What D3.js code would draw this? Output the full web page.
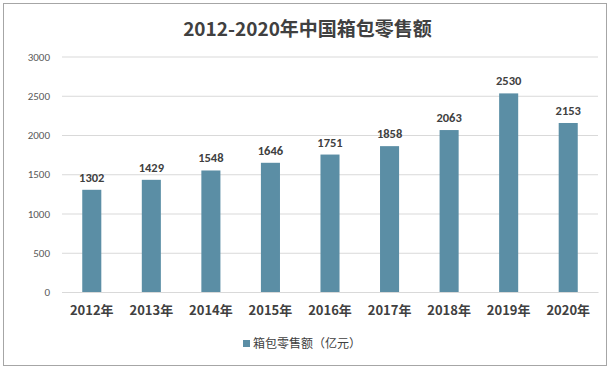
<!DOCTYPE html>
<html>
<head>
<meta charset="utf-8">
<script src="https://d3js.org/d3.v7.min.js"></script>
<style>
  body { margin: 0; background: #fff; }
  svg { font-family: Calibri, "Liberation Sans", "Noto Sans CJK SC", sans-serif; }
</style>
</head>
<body>
<svg id="chart" width="611" height="370"></svg>
<script>
// data
let years = ["2012年","2013年","2014年","2015年","2016年","2017年","2018年","2019年","2020年"];
let sales = [1302,1429,1548,1646,1751,1858,2063,2530,2153];
let yTicks = [0,500,1000,1500,2000,2500,3000];
let title = "2012-2020年中国箱包零售额";
let seriesName = "箱包零售额（亿元）";

let svg = d3.select("#chart");
let margin = {left: 62, right: 13, top: 56.5, bottom: 78};
let W = 611, H = 370;

// outer frame
svg.append("rect")
  .attr("x", 3.5).attr("y", 3.5).attr("width", 603).attr("height", 362)
  .attr("fill", "#fff").attr("stroke", "#a6a6a6").attr("stroke-width", 1);

let x = d3.scaleBand().domain(years).range([margin.left, W - margin.right]).paddingInner(0.68).paddingOuter(0.34);
let y = d3.scaleLinear().domain([0, 3000]).range([H - margin.bottom, margin.top]);

// gridlines + y labels
let yAxis = svg.append("g")
  .attr("transform", "translate(" + margin.left + ",0)")
  .call(d3.axisLeft(y).tickValues(yTicks).tickFormat(d3.format("d"))
    .tickSize(-(W - margin.left - margin.right)).tickPadding(12));
yAxis.select(".domain").remove();
yAxis.selectAll(".tick line").attr("stroke", "#d9d9d9");
yAxis.selectAll(".tick text").attr("fill", "#595959").style("font-size", "11px")
  .style("font-family", "Calibri, 'Liberation Sans', sans-serif");

// bars
svg.selectAll("rect.bar").data(sales).enter().append("rect")
  .attr("class", "bar")
  .attr("x", (d, i) => x(years[i]))
  .attr("width", x.bandwidth())
  .attr("y", d => y(d))
  .attr("height", d => y(0) - y(d))
  .attr("fill", "#5b8ea5");

// value labels
svg.selectAll("text.val").data(sales).enter().append("text")
  .attr("class", "val")
  .attr("x", (d, i) => x(years[i]) + x.bandwidth() / 2)
  .attr("y", d => y(d) - 8)
  .attr("text-anchor", "middle")
  .attr("fill", "#404040")
  .style("font-size", "12.5px").style("font-weight", "bold")
  .text(d => d);

// x axis
let xAxis = svg.append("g")
  .attr("transform", "translate(0," + y(0) + ")")
  .call(d3.axisBottom(x).tickSize(0).tickPadding(14));
xAxis.select(".domain").attr("stroke", "#d9d9d9");
xAxis.selectAll(".tick text").attr("fill", "#404040")
  .style("font-size", "13px").style("font-weight", "bold")
  .style("font-family", "'Noto Sans CJK SC', sans-serif");

// title
svg.append("text")
  .attr("x", W / 2 + 2).attr("y", 36)
  .attr("text-anchor", "middle")
  .attr("fill", "#404040")
  .style("font-size", "19px").style("font-weight", "bold")
  .style("font-family", "'Noto Sans CJK SC', sans-serif")
  .text(title);

// legend
let lg = svg.append("g").attr("transform", "translate(243,344)");
lg.append("rect").attr("x", 0).attr("y", -4).attr("width", 7).attr("height", 7).attr("fill", "#5b8ea5");
lg.append("text").attr("x", 10).attr("y", 0).attr("dy", "0.35em")
  .attr("fill", "#404040").style("font-size", "12px")
  .style("font-family", "'Noto Sans CJK SC', sans-serif")
  .text(seriesName);
</script>
</body>
</html>
